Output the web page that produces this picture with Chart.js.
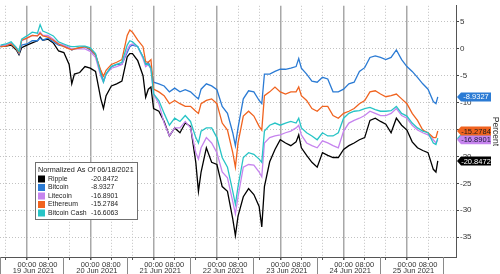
<!DOCTYPE html>
<html>
<head>
<meta charset="utf-8">
<script src="https://cdn.jsdelivr.net/npm/chart.js@4.4.1/dist/chart.umd.min.js"></script>
<style>
  html, body { margin: 0; padding: 0; background: #fff; }
  canvas { display: block; }
</style>
</head>
<body>
<canvas id="chart" width="500" height="274"></canvas>
<script>
var FONT = '"Liberation Sans", Arial, sans-serif';

// hours after 19 Jun 2021 00:00
var hours = [
  -10, -8, -6, -4, -3, -2,
  0, 2, 4, 5, 6, 8, 10, 12, 14, 16, 17, 18, 20, 22,
  24, 26, 28, 29, 30, 32, 34, 36, 38, 39, 40, 42, 44, 45, 46, 47,
  48, 50, 52, 54, 56, 58, 60, 62, 64, 65, 66, 68, 70,
  72, 74, 76, 78, 79, 80, 82, 84, 86, 88, 89, 90, 92, 94,
  96, 98, 100, 102, 103, 104, 106, 108, 110, 112, 114, 116, 118,
  120, 122, 124, 126, 128, 130, 132, 134, 136, 138, 140, 142,
  144, 146, 148, 150, 152, 154, 155, 155.7
];

var ripple = [
  0.4, 0.5, 0.7, -0.2, -1.1, 0.2,
  0.7, 1.1, 1.5, 2.2, 1.6, 1.8, 1.1, -0.4, -0.7, -2.9, -6.5, -4.7, -4.4, -3.3,
  -3.6, -4.2, -9.3, -11.1, -8.7, -6.9, -6.5, -6.0, -1.5, -0.9, -0.9, -2.2, -5.0, -9.0, -7.5, -7.1,
  -11.1, -11.6, -13.5, -16.2, -14.7, -15.6, -13.8, -14.4, -21.1, -26.5, -22.9, -18.4, -21.1,
  -21.5, -25.6, -26.5, -31.6, -34.7, -31.1, -27.5, -26.0, -27.1, -29.3, -33.1, -25.6, -21.0, -18.7,
  -16.9, -17.5, -18.0, -17.3, -16.0, -18.4, -19.8, -21.1, -22.0, -19.3, -19.8, -20.2, -20.2,
  -18.7, -18.0, -17.5, -16.9, -16.5, -13.3, -12.9, -13.5, -14.0, -15.6, -12.9, -14.2,
  -15.1, -17.3, -18.4, -18.9, -19.3, -22.4, -22.9, -20.8472
];

var bitcoin = [
  0.5, 0.7, 0.9, 0.0, -0.9, 0.7,
  0.9, 1.5, 1.5, 2.0, 1.6, 2.0, 1.3, 0.7, 0.5, 0.2, -0.2, 0.0, 0.2, 0.4,
  -0.2, -1.1, -4.4, -6.0, -4.7, -3.3, -2.9, -2.9, -0.7, 0.4, 0.7, 0.4, -1.5, -2.9, -2.5, -3.6,
  -6.2, -6.5, -6.9, -8.0, -7.3, -8.0, -7.6, -8.0, -8.9, -9.3, -7.5, -6.5, -6.9,
  -7.6, -10.7, -12.0, -15.6, -18.0, -14.7, -9.3, -7.8, -8.0, -9.6, -10.2, -4.7, -4.7, -4.2,
  -3.8, -3.8, -3.6, -3.3, -1.8, -3.6, -4.7, -6.0, -6.2, -5.3, -5.6, -8.0, -8.0,
  -7.5, -6.5, -6.2, -4.2, -3.5, -1.6, -1.3, -1.6, -2.0, -1.6, -0.2, -2.0,
  -3.3, -4.2, -5.3, -6.5, -7.5, -9.8, -10.2, -8.9327
];

var litecoin = [
  0.5, 0.7, 1.1, 0.2, -0.7, 1.5,
  2.0, 2.5, 2.4, 3.1, 2.5, 2.5, 1.8, 0.9, 0.7, 0.2, 0.0, 0.0, 0.0, 0.0,
  -0.5, -1.6, -5.1, -6.2, -4.7, -3.6, -3.3, -2.9, -0.2, 0.7, 0.9, 0.4, -1.8, -3.3, -2.9, -3.8,
  -8.4, -10.2, -13.8, -16.2, -14.7, -14.7, -13.5, -14.7, -19.3, -20.5, -18.4, -16.5, -17.5,
  -19.3, -22.9, -24.0, -28.4, -30.7, -27.5, -22.0, -21.5, -21.6, -22.9, -23.8, -17.5, -16.5, -16.2,
  -16.0, -15.6, -15.3, -14.7, -14.2, -16.0, -17.5, -18.0, -18.4, -17.1, -17.5, -18.0, -18.4,
  -15.3, -13.8, -13.3, -12.9, -12.4, -11.6, -12.0, -12.4, -12.4, -12.0, -11.1, -12.4,
  -12.9, -14.2, -15.1, -15.6, -16.0, -16.9, -17.5, -16.8901
];

var ethereum = [
  0.4, 0.5, 0.9, 0.0, -0.7, 1.6,
  2.0, 2.5, 2.4, 2.9, 2.4, 2.2, 1.6, 0.9, 0.4, 0.0, -0.2, 0.0, 0.2, 0.4,
  0.0, -1.1, -4.0, -5.1, -4.0, -2.9, -2.5, -2.0, 2.5, 3.5, 3.1, 1.6, 0.4, -2.4, -2.5, -2.0,
  -7.5, -8.0, -8.7, -10.2, -9.6, -10.2, -10.7, -10.7, -11.6, -12.0, -10.2, -9.6, -9.3,
  -10.2, -13.8, -15.1, -19.3, -22.0, -17.5, -12.5, -11.6, -12.5, -14.4, -15.1, -8.7, -8.0, -7.1,
  -8.0, -8.4, -8.0, -8.0, -7.1, -8.7, -9.6, -11.1, -11.6, -10.7, -10.7, -12.4, -12.9,
  -12.0, -11.6, -11.1, -10.2, -9.6, -8.0, -7.8, -8.4, -8.9, -8.7, -8.4, -9.3,
  -10.2, -12.0, -13.3, -15.1, -15.6, -16.5, -16.5, -15.2784
];

var bitcoinCash = [
  0.7, 0.9, 1.3, 0.2, -0.5, 1.8,
  2.4, 3.1, 2.9, 4.5, 3.3, 2.9, 2.4, 1.3, 0.9, 0.5, 0.4, 0.4, 0.5, 0.5,
  0.2, -0.9, -4.7, -6.2, -4.7, -3.3, -2.9, -2.5, 0.7, 1.5, 1.3, 0.4, -1.5, -2.9, -2.9, -3.6,
  -8.4, -9.6, -12.0, -14.2, -12.9, -13.5, -12.4, -13.5, -16.5, -17.5, -15.3, -14.7, -14.7,
  -16.5, -20.2, -22.0, -26.5, -28.9, -25.6, -20.2, -19.3, -19.6, -20.5, -21.1, -15.3, -14.2, -13.8,
  -14.2, -13.8, -13.5, -13.8, -12.9, -14.7, -15.6, -16.2, -16.9, -15.6, -16.2, -16.2, -15.6,
  -12.9, -12.0, -11.6, -11.5, -11.1, -10.9, -11.3, -11.6, -11.6, -11.5, -10.7, -12.0,
  -12.5, -13.8, -14.7, -15.3, -15.6, -17.5, -17.8, -16.6063
];

var SERIES = [ripple, bitcoin, litecoin, ethereum, bitcoinCash];
var SERIES_NAMES = ['Ripple', 'Bitcoin', 'Litecoin', 'Ethereum', 'Bitcoin Cash'];
var LAST_LABELS = ['-20.8472', '-8.9327', '-16.8901', '-15.2784', '-16.6063'];
var COLORS = ['#000000', '#2b7bd4', '#c684ee', '#f0631f', '#27c4c6'];
var TAG_TEXT = ['#ffffff', '#ffffff', '#1a1a3a', '#1a1a1a', '#1a1a1a'];

var DAY_LABELS = ['19 Jun 2021', '20 Jun 2021', '21 Jun 2021', '22 Jun 2021',
  '23 Jun 2021', '24 Jun 2021', '25 Jun 2021'];
var X_TICKS = [-8, 0, 8, 16, 24, 32, 40, 48, 56, 64, 72, 80, 88, 96, 104,
  112, 120, 128, 136, 144, 152];
var Y_TICKS = [5, 0, -5, -10, -15, -20, -25, -30, -35];

function mod24(h) { return ((h % 24) + 24) % 24; }

function toPoints(vals) {
  return vals.map(function (v, i) { return { x: hours[i], y: v }; });
}

var extras = {
  id: 'extras',
  afterDraw: function (chart) {
    var ctx = chart.ctx;
    var xs = chart.scales.x;
    var ys = chart.scales.y;
    ctx.save();

    // day separators below the time axis
    ctx.strokeStyle = '#8a8a8a';
    ctx.lineWidth = 1;
    for (var d = -1; d <= DAY_LABELS.length; d++) {
      var sx = Math.round(xs.getPixelForValue(13.75 + 24 * d)) + 0.5;
      if (sx < 0) sx = 0.5;
      if (sx > xs.right) continue;
      ctx.beginPath();
      ctx.moveTo(sx, xs.top);
      ctx.lineTo(sx, chart.height);
      ctx.stroke();
    }
    ctx.fillStyle = '#333';
    ctx.font = '7.5px ' + FONT;
    ctx.textAlign = 'center';
    ctx.textBaseline = 'middle';
    DAY_LABELS.forEach(function (lbl, i) {
      ctx.fillText(lbl, xs.getPixelForValue(2.5 + 24 * i), 270.5);
    });

    // last value tags on the right axis
    var tagOrder = [4, 0, 2, 3, 1];
    ctx.font = '7.5px ' + FONT;
    tagOrder.forEach(function (i) {
      var vals = SERIES[i];
      var ty = ys.getPixelForValue(vals[vals.length - 1]);
      var x0 = xs.right + 1;
      ctx.fillStyle = COLORS[i];
      ctx.beginPath();
      ctx.moveTo(x0, ty);
      ctx.lineTo(x0 + 4, ty - 4.5);
      ctx.lineTo(x0 + 34, ty - 4.5);
      ctx.lineTo(x0 + 34, ty + 4.5);
      ctx.lineTo(x0 + 4, ty + 4.5);
      ctx.closePath();
      ctx.fill();
      ctx.fillStyle = TAG_TEXT[i];
      ctx.fillText(LAST_LABELS[i], x0 + 19, ty + 0.5);
    });

    // legend box
    ctx.fillStyle = '#ffffff';
    ctx.strokeStyle = '#707070';
    ctx.fillRect(35.5, 162.5, 102, 57);
    ctx.strokeRect(35.5, 162.5, 102, 57);
    ctx.textAlign = 'left';
    ctx.font = '7.3px ' + FONT;
    ctx.fillStyle = '#222';
    ctx.fillText('Normalized As Of 06/18/2021', 38, 170);
    ctx.font = '6.9px ' + FONT;
    SERIES_NAMES.forEach(function (name, i) {
      var ry = 179 + i * 8.5;
      ctx.fillStyle = COLORS[i];
      ctx.fillRect(38, ry - 3.5, 7, 7);
      ctx.fillStyle = '#222';
      ctx.fillText(name, 48, ry);
      ctx.fillText(LAST_LABELS[i], 91, ry);
    });
    ctx.restore();
  }
};

var ctx = document.getElementById('chart').getContext('2d');
var chart = new Chart(ctx, {
  type: 'line',
  data: {
    datasets: SERIES.map(function (vals, i) {
      return {
        label: SERIES_NAMES[i],
        data: toPoints(vals),
        borderColor: COLORS[i],
        borderWidth: 1.3,
        pointRadius: 0,
        tension: 0,
        order: 5 - i,
      };
    }),
  },
  options: {
    responsive: false,
    animation: false,
    layout: { padding: 0 },
    scales: {
      x: {
        type: 'linear',
        min: -10.2,
        max: 162.6,
        afterBuildTicks: function (scale) {
          scale.ticks = X_TICKS.map(function (h) { return { value: h }; });
        },
        afterFit: function (scale) { scale.height = 17; },
        ticks: {
          autoSkip: false,
          maxRotation: 0,
          minRotation: 0,
          padding: 0,
          color: '#333',
          font: { family: FONT, size: 7.5 },
          callback: function (v) {
            var m = mod24(v);
            return m === 0 ? '00:00' : (m === 8 ? '08:00' : '');
          },
        },
        grid: {
          color: function (c) {
            if (!c.tick) return '#aaa';
            return mod24(c.tick.value) === 0 ? '#a8a8a8' : '#c2c2c2';
          },
          lineWidth: function (c) {
            if (!c.tick) return 1;
            return mod24(c.tick.value) === 0 ? 1.5 : 1;
          },
          tickLength: 3,
          tickColor: '#555',
        },
        border: {
          color: '#555',
          dash: function (c) {
            if (!c.tick) return [];
            return mod24(c.tick.value) === 0 ? [] : [1, 2];
          },
        },
      },
      y: {
        position: 'right',
        min: -38.7,
        max: 8,
        afterBuildTicks: function (scale) {
          scale.ticks = Y_TICKS.map(function (v) { return { value: v }; });
        },
        afterFit: function (scale) { scale.width = 44; },
        ticks: {
          padding: 1,
          color: '#333',
          font: { family: FONT, size: 8 },
          callback: function (v) { return String(v); },
        },
        grid: {
          color: '#c2c2c2',
          tickLength: 3,
          tickColor: '#444',
        },
        border: {
          color: '#555',
          dash: function (c) { return c.tick ? [1, 2] : []; },
        },
        title: {
          display: true,
          text: 'Percent',
          color: '#333',
          font: { family: FONT, size: 8.5 },
          padding: 0,
        },
      },
    },
    plugins: {
      legend: { display: false },
      tooltip: { enabled: false },
    },
  },
  plugins: [extras],
});
</script>
</body>
</html>
